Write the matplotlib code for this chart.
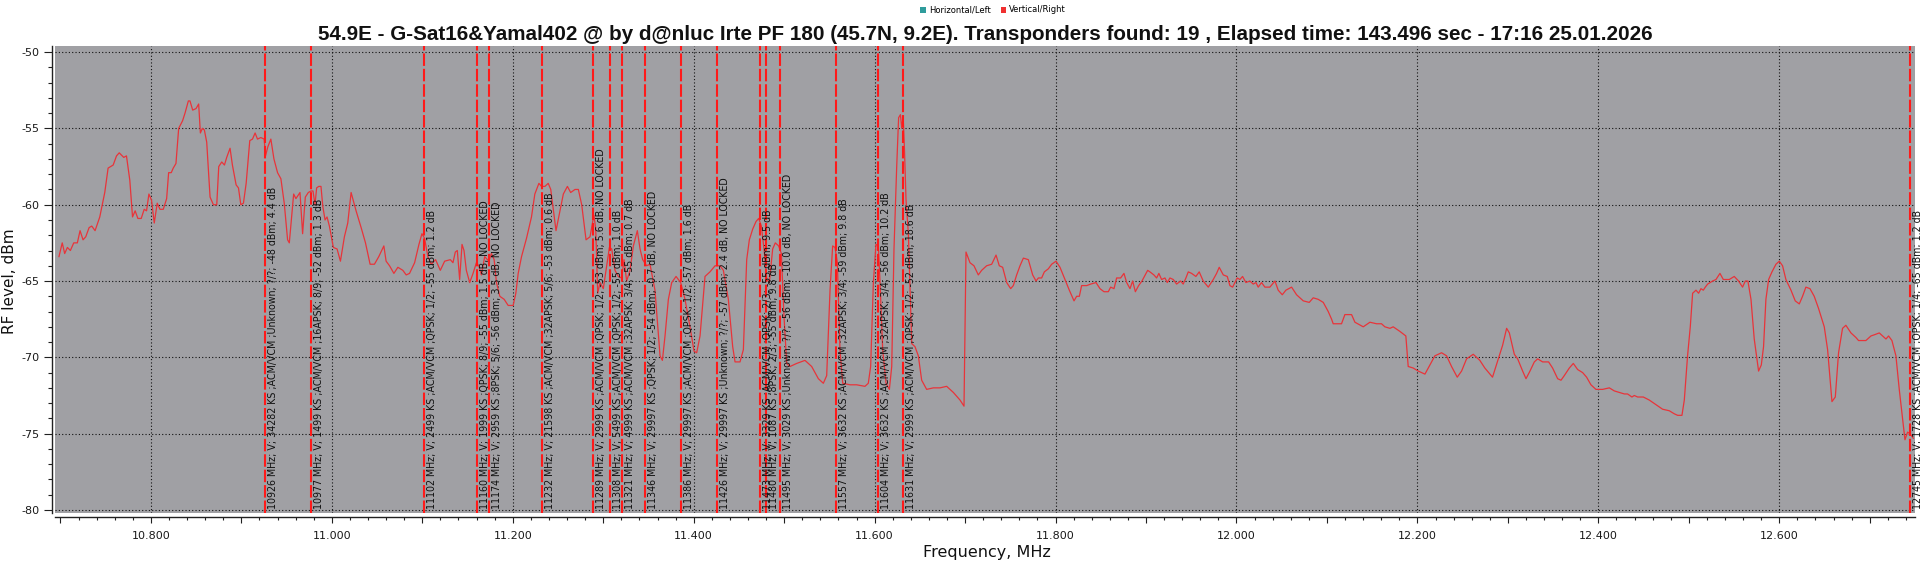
import matplotlib
matplotlib.use("Agg")
import matplotlib.pyplot as plt
import matplotlib.transforms as mtransforms
from matplotlib.ticker import MultipleLocator, FuncFormatter
from matplotlib.patches import Patch

# ---------------- data ----------------
title = ("54.9E - G-Sat16&Yamal402 @ by d@nluc Irte PF 180 (45.7N, 9.2E). "
         "Transponders found: 19 , Elapsed time: 143.496 sec - 17:16 25.01.2026")
legend_labels = ["Horizontal/Left", "Vertical/Right"]
legend_colors = ["#2f9c9c", "#f03030"]
x_label = "Frequency, MHz"
y_label = "RF level, dBm"

freq_mhz = [
    10698.4, 10702.0, 10704.7, 10707.7, 10711.0, 10714.7, 10718.7, 10721.7, 10725.0, 10728.0,
    10731.7, 10734.6, 10738.3, 10743.5, 10749.0, 10752.7, 10758.3, 10762.0, 10765.0, 10770.0,
    10773.0, 10776.7, 10779.7, 10782.6, 10785.6, 10789.3, 10792.6, 10795.2, 10797.8, 10800.7,
    10803.7, 10807.0, 10810.0, 10813.7, 10817.4, 10819.6, 10822.5, 10824.7, 10827.7, 10830.7,
    10835.0, 10837.7, 10841.4, 10843.2, 10846.2, 10849.9, 10852.8, 10854.7, 10856.9, 10859.1,
    10861.7, 10865.4, 10869.1, 10872.8, 10875.0, 10878.3, 10881.3, 10883.8, 10887.5, 10890.1,
    10894.2, 10896.8, 10899.4, 10902.3, 10905.3, 10909.3, 10912.3, 10915.2, 10917.8, 10921.5,
    10925.2, 10926.7, 10929.3, 10932.6, 10936.0, 10940.0, 10943.7, 10947.4, 10951.1, 10953.0,
    10957.8, 10960.3, 10964.8, 10967.7, 10970.7, 10974.0, 10977.0, 10979.2, 10981.4, 10983.2,
    10985.5, 10988.0, 10990.0, 10992.5, 10994.7, 10997.3, 11001.7, 11005.8, 11009.5, 11013.9,
    11017.6, 11021.3, 11026.8, 11032.4, 11037.2, 11042.3, 11047.1, 11051.9, 11057.5, 11060.0,
    11063.8, 11068.6, 11073.0, 11078.5, 11082.2, 11085.9, 11091.5, 11096.3, 11099.6, 11102.5,
    11106.2, 11109.9, 11114.7, 11119.9, 11124.7, 11131.0, 11133.9, 11136.5, 11138.7, 11141.3,
    11143.9, 11146.1, 11148.7, 11152.4, 11156.1, 11159.8, 11162.4, 11165.3, 11169.0, 11173.5,
    11176.4, 11179.4, 11182.0, 11185.7, 11190.5, 11194.9, 11200.4, 11203.4, 11206.0, 11209.7,
    11215.2, 11220.7, 11224.4, 11228.9, 11231.8, 11235.5, 11239.2, 11242.0, 11247.8, 11255.9,
    11260.4, 11264.0, 11268.8, 11272.5, 11276.2, 11281.0, 11285.4, 11288.4, 11289.8, 11291.7,
    11293.9, 11296.5, 11300.1, 11303.8, 11306.8, 11309.4, 11313.0, 11316.7, 11320.4, 11323.0,
    11325.9, 11329.6, 11333.3, 11337.7, 11340.7, 11343.6, 11348.0, 11351.7, 11357.2, 11362.8,
    11365.4, 11368.3, 11372.0, 11375.7, 11380.5, 11385.6, 11390.4, 11395.9, 11400.4, 11403.3,
    11407.0, 11412.5, 11418.0, 11423.6, 11429.1, 11432.8, 11438.3, 11443.1, 11445.7, 11451.2,
    11454.9, 11458.6, 11461.5, 11465.2, 11468.9, 11471.8, 11474.8, 11477.7, 11480.7, 11483.6,
    11487.3, 11490.2, 11493.9, 11496.9, 11499.8, 11502.8, 11506.5, 11513.8, 11523.0, 11530.4,
    11537.8, 11543.3, 11547.0, 11550.7, 11553.6, 11556.2, 11558.8, 11561.7, 11564.7, 11572.8,
    11580.1, 11589.3, 11593.0, 11595.6, 11598.6, 11601.5, 11604.1, 11606.0, 11608.9, 11612.6,
    11616.3, 11618.9, 11621.4, 11624.4, 11626.5, 11628.5, 11630.0, 11631.5, 11633.0, 11634.7,
    11637.3, 11641.0, 11644.6, 11648.3, 11652.0, 11657.5, 11664.9, 11672.3, 11679.6, 11687.0,
    11694.4, 11698.8, 11701.0, 11705.4, 11709.8, 11714.6, 11718.3, 11723.8, 11729.4, 11734.2,
    11737.8, 11741.5, 11746.0, 11750.4, 11753.3, 11757.0, 11760.7, 11764.4, 11769.9, 11774.7,
    11778.4, 11781.0, 11784.6, 11787.6, 11792.0, 11795.7, 11800.5, 11804.9, 11810.4, 11815.2,
    11820.4, 11823.3, 11826.3, 11828.8, 11834.4, 11838.8, 11844.7, 11849.1, 11853.5, 11858.3,
    11860.9, 11864.6, 11867.5, 11871.9, 11875.6, 11878.6, 11882.3, 11885.2, 11888.2, 11891.8,
    11895.5, 11901.8, 11904.3, 11908.7, 11911.7, 11914.2, 11917.2, 11920.9, 11923.5, 11926.4,
    11930.1, 11933.8, 11938.2, 11941.1, 11944.1, 11946.7, 11950.4, 11955.1, 11958.8, 11963.2,
    11968.8, 11974.3, 11978.0, 11980.9, 11985.4, 11989.8, 11992.7, 11995.7, 12000.8, 12003.8,
    12006.7, 12010.4, 12014.8, 12018.5, 12021.5, 12024.0, 12027.7, 12031.4, 12036.9, 12042.5,
    12046.1, 12050.6, 12054.6, 12060.9, 12066.4, 12073.8, 12080.4, 12084.8, 12090.3, 12095.9,
    12101.4, 12105.1, 12106.9, 12116.1, 12119.8, 12127.2, 12130.9, 12140.1, 12147.5, 12154.8,
    12160.3, 12164.0, 12169.6, 12173.2, 12180.6, 12187.2, 12189.8, 12195.3, 12200.9, 12208.3,
    12213.8, 12219.3, 12226.7, 12232.2, 12237.7, 12244.0, 12248.8, 12254.3, 12261.7, 12269.0,
    12274.5, 12283.0, 12290.5, 12294.2, 12298.6, 12301.6, 12307.1, 12310.8, 12316.3, 12320.0,
    12324.4, 12329.2, 12332.9, 12338.4, 12345.0, 12349.4, 12355.0, 12358.7, 12362.3, 12367.9,
    12372.3, 12377.1, 12382.6, 12387.0, 12391.8, 12397.3, 12404.7, 12412.1, 12417.6, 12423.1,
    12428.7, 12432.3, 12437.1, 12439.7, 12443.4, 12449.7, 12456.3, 12463.7, 12471.0, 12478.4,
    12483.9, 12487.6, 12492.4, 12495.0, 12498.6, 12501.6, 12504.2, 12507.9, 12510.8, 12513.4,
    12516.0, 12518.2, 12520.8, 12526.3, 12530.0, 12534.4, 12538.1, 12544.7, 12550.2, 12555.0,
    12559.4, 12562.4, 12565.3, 12568.7, 12572.3, 12577.1, 12580.1, 12582.6, 12585.2, 12588.2,
    12591.9, 12596.3, 12600.0, 12603.6, 12607.3, 12612.9, 12617.6, 12622.1, 12625.7, 12629.4,
    12633.9, 12638.6, 12643.4, 12649.7, 12653.4, 12658.2, 12661.9, 12665.5, 12669.9, 12673.6,
    12679.2, 12684.7, 12687.6, 12692.1, 12695.7, 12701.3, 12706.1, 12710.5, 12714.2, 12717.9,
    12720.8, 12724.5, 12728.9, 12732.6, 12738.9, 12741.8, 12744.4, 12748.1,
]

level_dbm = [
    -63.4, -62.5, -63.2, -62.8, -63.0, -62.5, -62.5, -61.7, -62.3, -62.1,
    -61.5, -61.4, -61.7, -60.8, -59.2, -57.6, -57.4, -56.8, -56.6, -56.9,
    -56.8, -58.4, -60.8, -60.4, -60.9, -60.9, -60.3, -60.4, -59.3, -59.7,
    -61.2, -59.9, -60.3, -60.3, -59.6, -57.9, -57.9, -57.6, -57.3, -55.0,
    -54.5, -54.0, -53.2, -53.2, -53.8, -53.7, -53.4, -55.3, -55.0, -55.1,
    -55.9, -59.5, -60.0, -60.0, -57.5, -57.2, -57.4, -56.9, -56.3, -57.4,
    -58.7, -58.9, -60.0, -59.9, -58.6, -55.8, -55.7, -55.3, -55.7, -55.6,
    -55.7, -56.8, -56.2, -55.7, -57.0, -57.9, -58.3, -59.9, -62.3, -62.5,
    -59.3, -59.6, -59.2, -61.9, -59.5, -59.2, -59.1, -59.1, -60.0, -58.9,
    -58.8, -58.8, -60.1, -61.0, -60.8, -61.4, -62.8, -62.9, -63.7, -62.1,
    -61.2, -59.2, -60.4, -61.5, -62.5, -63.9, -63.9, -63.4, -62.7, -63.7,
    -64.0, -64.5, -64.1, -64.3, -64.6, -64.5, -63.8, -62.6, -61.9, -62.2,
    -63.4, -63.9, -63.6, -64.3, -63.7, -63.6, -63.8, -63.1, -63.0, -64.9,
    -62.6, -63.0, -64.3, -65.1, -64.5, -63.8, -64.0, -64.6, -63.4, -63.7,
    -63.2, -63.6, -65.1, -66.0, -66.2, -66.6, -66.6, -65.8, -64.5, -63.4,
    -62.2, -60.8, -59.3, -58.6, -58.8, -58.8, -58.6, -59.0, -61.7, -59.3,
    -58.8, -59.2, -59.0, -59.0, -60.0, -62.3, -62.1, -61.1, -60.7, -61.6,
    -65.8, -65.1, -65.5, -64.0, -62.8, -62.9, -64.3, -64.7, -64.8, -63.6,
    -65.0, -64.3, -62.7, -61.7, -62.9, -63.6, -64.0, -63.9, -65.6, -69.9,
    -70.2, -68.6, -66.2, -65.1, -64.7, -65.1, -66.2, -68.0, -69.6, -69.7,
    -68.6, -64.7, -64.4, -64.0, -64.0, -64.3, -66.2, -69.3, -70.3, -70.3,
    -69.5, -63.6, -62.3, -61.6, -61.1, -60.9, -61.4, -62.9, -64.9, -65.1,
    -62.9, -62.5, -62.7, -63.2, -67.3, -70.4, -70.6, -70.4, -70.2, -70.6,
    -71.4, -71.7, -71.2, -65.6, -62.7, -62.8, -63.8, -69.5, -71.7, -71.8,
    -71.8, -71.9, -71.7, -70.6, -65.1, -62.6, -62.7, -65.1, -69.5, -71.7,
    -72.1, -70.6, -62.9, -57.5, -54.3, -54.1, -55.0, -54.2, -56.4, -59.7,
    -61.9, -69.1, -69.3, -69.9, -71.5, -72.1, -72.0, -72.0, -71.9, -72.3,
    -72.8, -73.2, -63.1, -63.8, -64.0, -64.6, -64.3, -64.0, -63.9, -63.3,
    -64.0, -64.1, -65.1, -65.5, -65.3, -64.6, -64.0, -63.5, -63.6, -64.6,
    -65.0, -64.8, -64.8, -64.4, -64.2, -63.9, -63.7, -64.1, -64.9, -65.6,
    -66.3, -66.0, -66.0, -65.3, -65.3, -65.2, -65.1, -65.5, -65.7, -65.7,
    -65.4, -65.5, -64.8, -64.8, -64.5, -65.1, -65.5, -65.0, -65.7, -65.3,
    -65.0, -64.3, -64.4, -64.6, -64.8, -64.5, -64.9, -64.8, -65.1, -64.8,
    -64.9, -65.2, -65.0, -65.2, -64.8, -64.4, -64.5, -64.7, -64.4, -65.0,
    -65.4, -64.9, -64.5, -64.1, -64.6, -64.7, -65.3, -65.4, -64.8, -64.9,
    -64.7, -65.1, -65.0, -65.2, -65.1, -65.4, -65.1, -65.4, -65.4, -65.0,
    -65.6, -65.9, -65.6, -65.4, -65.9, -66.3, -66.4, -66.1, -66.2, -66.4,
    -67.0, -67.5, -67.8, -67.8, -67.2, -67.2, -67.7, -68.0, -67.7, -67.8,
    -67.8, -68.0, -68.1, -68.0, -68.3, -68.6, -70.6, -70.7, -70.9, -71.1,
    -70.5, -69.9, -69.7, -69.9, -70.6, -71.3, -70.9, -70.1, -69.8, -70.2,
    -70.7, -71.3, -69.9, -69.2, -68.1, -68.4, -69.8, -70.1, -70.9, -71.4,
    -70.9, -70.3, -70.1, -70.3, -70.3, -70.7, -71.4, -71.5, -71.2, -70.7,
    -70.4, -70.8, -71.0, -71.3, -71.8, -72.1, -72.1, -72.0, -72.2, -72.3,
    -72.4, -72.4, -72.6, -72.5, -72.6, -72.6, -72.8, -73.1, -73.4, -73.5,
    -73.7, -73.8, -73.8, -72.8, -69.9, -68.0, -65.8, -65.6, -65.8, -65.5,
    -65.6, -65.4, -65.2, -65.0, -64.9, -64.5, -64.9, -64.9, -64.7, -65.0,
    -65.4, -65.0, -65.0, -66.2, -68.8, -70.9, -70.5, -69.3, -66.2, -64.9,
    -64.4, -63.9, -63.7, -64.0, -64.9, -65.6, -66.3, -66.5, -66.0, -65.4,
    -65.5, -66.0, -66.8, -68.0, -69.5, -72.9, -72.6, -69.7, -68.1, -67.9,
    -68.4, -68.7, -68.9, -68.9, -68.9, -68.6, -68.5, -68.4, -68.6, -68.8,
    -68.6, -68.9, -69.9, -72.1, -75.4, -74.9, -75.0, -75.3,
]

tp_freq = [10926, 10977, 11102, 11160, 11174, 11232, 11289, 11308, 11321, 11346,
           11386, 11426, 11473, 11480, 11495, 11557, 11604, 11631, 12745]
tp_labels = [
    "10926 MHz; V; 34282 KS ;ACM/VCM ;Unknown; ?/?; -48 dBm; 4.4 dB",
    "10977 MHz; V; 1499 KS ;ACM/VCM ;16APSK; 8/9; -52 dBm; 1.3 dB",
    "11102 MHz; V; 2499 KS ;ACM/VCM ;QPSK; 1/2; -55 dBm; 1.2 dB",
    "11160 MHz; V; 1999 KS ;QPSK; 8/9; -55 dBm; 1.5 dB, NO LOCKED",
    "11174 MHz; V; 2959 KS ;8PSK; 5/6; -56 dBm; 3.5 dB, NO LOCKED",
    "11232 MHz; V; 21598 KS ;ACM/VCM ;32APSK; 5/6; -53 dBm; 0.6 dB",
    "11289 MHz; V; 2999 KS ;ACM/VCM ;QPSK; 1/2; -53 dBm; 5.6 dB, NO LOCKED",
    "11308 MHz; V; 5499 KS ;ACM/VCM ;QPSK; 1/2; -55 dBm; 1.0 dB",
    "11321 MHz; V; 4999 KS ;ACM/VCM ;32APSK; 3/4; -55 dBm; 0.7 dB",
    "11346 MHz; V; 29997 KS ;QPSK; 1/2; -54 dBm; -0.7 dB, NO LOCKED",
    "11386 MHz; V; 29997 KS ;ACM/VCM ;QPSK; 1/2; -57 dBm; 1.6 dB",
    "11426 MHz; V; 29997 KS ;Unknown; ?/?; -57 dBm; 2.4 dB, NO LOCKED",
    "11473 MHz; V; 3329 KS ;ACM/VCM ;QPSK; 2/3; -55 dBm; 9.5 dB",
    "11480 MHz; V; 1087 KS ;8PSK; 2/3; -55 dBm; 9.8 dB",
    "11495 MHz; V; 3029 KS ;Unknown; ?/?; -56 dBm; -10.0 dB, NO LOCKED",
    "11557 MHz; V; 3632 KS ;ACM/VCM ;32APSK; 3/4; -59 dBm; 9.8 dB",
    "11604 MHz; V; 3632 KS ;ACM/VCM ;32APSK; 3/4; -56 dBm; 10.2 dB",
    "11631 MHz; V; 2999 KS ;ACM/VCM ;QPSK; 1/2; -52 dBm; 18.6 dB",
    "12745 MHz; V; 1728 KS ;ACM/VCM ;QPSK; 1/4; -65 dBm; 1.2 dB",
]

# ---------------- figure ----------------
W, H = 1920, 563
fig = plt.figure(figsize=(W / 100, H / 100), dpi=100)
fig.patch.set_facecolor("white")
ax = fig.add_axes([55 / W, 1 - 513 / H, 1860 / W, 467 / H])
ax.set_facecolor("#a0a0a4")
ax.set_xlim(10694, 12750)
ax.set_ylim(-80.2, -49.6)

# spines
for s in ("top", "right"):
    ax.spines[s].set_visible(False)
ax.spines["left"].set_position(("outward", 2))
ax.spines["bottom"].set_position(("outward", 3))
for s in ("left", "bottom"):
    ax.spines[s].set_color("#202020")
    ax.spines[s].set_linewidth(1.0)

# ticks
ax.xaxis.set_major_locator(MultipleLocator(100))
ax.xaxis.set_minor_locator(MultipleLocator(20))
ax.xaxis.set_major_formatter(FuncFormatter(
    lambda v, p: f"{v / 1000:.3f}" if round(v) % 200 == 0 else ""))
ax.yaxis.set_major_locator(MultipleLocator(5))
ax.yaxis.set_minor_locator(MultipleLocator(1))
ax.yaxis.set_major_formatter(FuncFormatter(lambda v, p: f"{v:.0f}"))
ax.tick_params(axis="x", which="major", length=4.5, width=0.8, color="#202020",
               pad=5.5, labelsize=8, labelcolor="#1a1a1a")
ax.tick_params(axis="x", which="minor", length=2.4, width=0.8, color="#202020")
ax.tick_params(axis="y", which="major", length=6, width=0.8, color="#202020",
               pad=3, labelsize=8, labelcolor="#1a1a1a")
ax.tick_params(axis="y", which="minor", length=3, width=0.8, color="#202020")

# grid
ax.set_axisbelow(True)
ax.yaxis.grid(True, which="major", color="#111111", linestyle=(0, (1, 2)), linewidth=0.8)
for v in ax.get_xticks():
    if round(v) % 200 == 0 and ax.get_xlim()[0] < v < ax.get_xlim()[1]:
        ax.axvline(v, color="#111111", linestyle=(0, (1, 2)), linewidth=0.8, zorder=0.5)

# spectrum trace
ax.plot(freq_mhz, level_dbm, color="#e8343a", linewidth=0.9, zorder=3)

# transponder markers and labels
txt_tr = mtransforms.offset_copy(ax.transData, fig=fig, x=3, y=0, units="dots")
labels = []
for f, lab in zip(tp_freq, tp_labels):
    ax.axvline(f, color="#ff1a1a", linewidth=1.5, dashes=(6, 1.4), zorder=4)
    t = ax.text(f, -79.95, lab, rotation=90, ha="left", va="bottom",
                fontsize=6.3, color="#111111", transform=txt_tr, zorder=5,
                family="DejaVu Sans", clip_on=False)
    labels.append(t)

# title / axis labels / legend
ttl = fig.text(985 / W, 1 - 35 / H, title, ha="center", va="center",
               fontsize=12, fontweight="bold", family="Liberation Sans", color="#111111")
fig.text(10 / W, 1 - 281 / H, y_label, rotation=90, ha="center", va="center",
         fontsize=11, color="#111111")
fig.text(987 / W, 1 - 553 / H, x_label, ha="center", va="center",
         fontsize=11.5, color="#111111")
handles = [Patch(facecolor=c, edgecolor="none") for c in legend_colors]
fig.legend(handles, legend_labels, loc="center", bbox_to_anchor=(993 / W, 1 - 10 / H),
           ncol=2, frameon=False, fontsize=6, handlelength=0.7, handleheight=0.7,
           handletextpad=0.3, columnspacing=1.2, borderpad=0)

# fit text sizes to measured widths in the reference
fig.canvas.draw()
r = fig.canvas.get_renderer()
w = ttl.get_window_extent(r).width
ttl.set_fontsize(12 * 1325 / w)
h = labels[0].get_window_extent(r).height
fs = 6.3 * 323 / h
for t in labels:
    t.set_fontsize(fs)

fig.savefig("out.png", dpi=100, facecolor=fig.get_facecolor())
